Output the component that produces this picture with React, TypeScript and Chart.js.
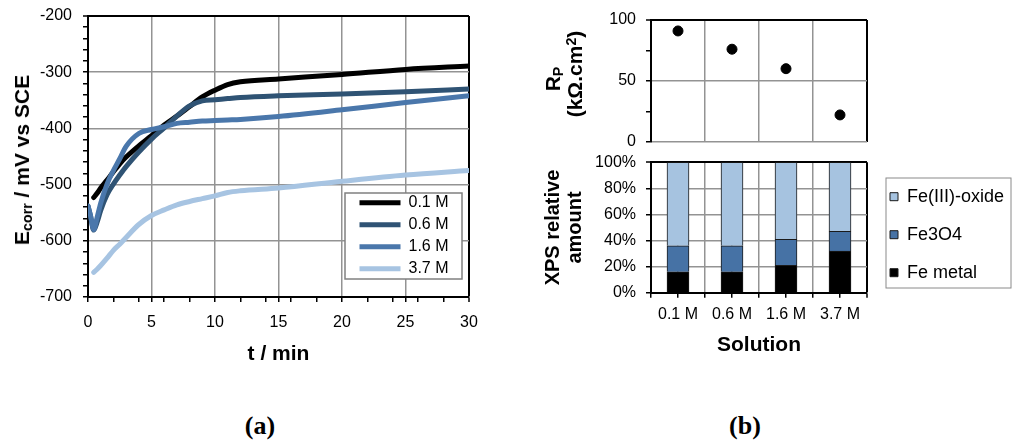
import React, { useEffect, useRef } from "react";
import { Chart, registerables } from "chart.js";

Chart.register(...registerables);

// ---------- data ----------
const timeMin = [0, 0.2, 0.45, 0.7, 1, 1.5, 2, 2.5, 3, 4, 5, 6, 7, 8, 9, 10, 11, 12, 15, 20, 25, 30];
const ecorr01M = [null, null, -523, -516, -506, -492, -477, -463, -451, -431, -413, -394, -378, -361, -344, -332, -322, -317, -312, -304, -295, -289];
const ecorr06M = [-538, -556, -581, -568, -546, -518, -499, -483, -468, -442, -419, -399, -378, -360, -351, -349, -347, -345, -342, -339, -335, -330];
const ecorr16M = [-538, -555, -580, -560, -533, -499, -475, -454, -432, -409, -402, -397, -391, -389, -387, -386, -385, -384, -379, -367, -354, -342];
const ecorr37M = [null, null, -656, -651, -644, -631, -617, -606, -594, -571, -555, -545, -536, -530, -525, -520, -514, -511, -506, -494, -483, -475];
const seriesNames = ["0.1 M", "0.6 M", "1.6 M", "3.7 M"];
const timeTicks = [0, 2, 4, 5, 6, 8, 10, 12, 14, 15, 16, 18, 20, 22, 24, 25, 26, 28, 30];

const solutions = ["0.1 M", "0.6 M", "1.6 M", "3.7 M"];
const rpValues = [91, 76, 60, 22];
const feMetal = [16, 16, 21, 32];
const fe3o4 = [20, 20, 20, 15];
const fe3Oxide = [64, 64, 59, 53];
const solutionTicks = [-0.5, 0, 0.5, 1, 1.5, 2, 2.5, 3, 3.5];

// ---------- styles ----------
const FONT = "'Liberation Sans', Arial, Helvetica, sans-serif";
const GRID = "#939393";
const lineColors = ["#000000", "#2F5374", "#4A77AB", "#A7C4E2"];

Chart.defaults.font.family = FONT;
Chart.defaults.color = "#000";

const fixSize = (prop: "width" | "height", size: number) => (s: any) => {
  s[prop] = size;
  s.paddingLeft = 0;
  s.paddingRight = 0;
  s.paddingTop = 0;
  s.paddingBottom = 0;
};

// places the legend box and draws it on a white framed panel above the data
const legendPlacer = {
  id: "legendPlacer",
  afterLayout(chart: any, _a: any, opts: any) {
    const lg = chart.legend;
    if (!lg || !opts || opts.left === undefined) return;
    const w = lg.width;
    lg.left = opts.left;
    lg.top = opts.top;
    lg.right = opts.left + w + 200;
    lg.width = w + 200;
    lg.height = 1000;
    lg.bottom = opts.top + 1000;
  },
  afterDatasetsDraw(chart: any, _a: any, opts: any) {
    if (!opts || !opts.frame) return;
    const [x0, y0, x1, y1] = opts.frame;
    const ctx = chart.ctx;
    ctx.save();
    ctx.fillStyle = "#ffffff";
    ctx.fillRect(x0, y0, x1 - x0, y1 - y0);
    ctx.strokeStyle = opts.frameColor || "#808080";
    ctx.lineWidth = opts.frameWidth || 1;
    ctx.strokeRect(x0, y0, x1 - x0, y1 - y0);
    ctx.restore();
    if (chart.legend) chart.legend.draw();
  },
};

function toPoints(vals: (number | null)[]) {
  const out: { x: number; y: number }[] = [];
  vals.forEach((v, i) => {
    if (v !== null) out.push({ x: timeMin[i], y: v });
  });
  return out;
}

function makeLeftConfig(): any {
  const all = [ecorr01M, ecorr06M, ecorr16M, ecorr37M];
  return {
    type: "line",
    data: {
      datasets: all.map((vals, i) => ({
        label: seriesNames[i],
        data: toPoints(vals),
        borderColor: lineColors[i],
        backgroundColor: lineColors[i],
        borderWidth: 5,
        borderCapStyle: "round",
        borderJoinStyle: "round",
        pointRadius: 0,
        cubicInterpolationMode: "monotone",
        order: 4 - i,
      })),
    },
    options: {
      animation: false,
      responsive: false,
      devicePixelRatio: 1,
      layout: { padding: { top: 16, right: 11, left: 0, bottom: 0 } },
      scales: {
        x: {
          type: "linear",
          min: 0,
          max: 30,
          afterBuildTicks: (s: any) => {
            s.ticks = timeTicks.map((v) => ({ value: v }));
          },
          afterFit: fixSize("height", 74),
          ticks: {
            autoSkip: false,
            maxRotation: 0,
            padding: 11,
            color: "#000",
            font: { size: 16 },
            callback: (v: number) => (v % 5 === 0 ? String(v) : ""),
          },
          grid: {
            z: -1,
            color: (c: any) => {
              const v = c.tick ? c.tick.value : null;
              if (v === 30) return "#000";
              return v !== null && v % 5 === 0 ? GRID : "rgba(0,0,0,0)";
            },
            lineWidth: (c: any) => (c.tick && c.tick.value === 30 ? 2 : 1.5),
            tickColor: "#000",
            tickLength: 5,
            tickWidth: 1.5,
          },
          border: { color: "#000", width: 2 },
          title: {
            display: true,
            text: "t / min",
            color: "#000",
            font: { size: 21, weight: "bold" },
            padding: { top: 4, bottom: 4 },
          },
        },
        y: {
          type: "linear",
          min: -700,
          max: -200,
          afterFit: fixSize("width", 88),
          ticks: {
            stepSize: 20,
            autoSkip: false,
            padding: 11,
            color: "#000",
            font: { size: 16 },
            callback: (v: number) => (Math.round(v) % 100 === 0 ? String(Math.round(v)) : ""),
          },
          grid: {
            z: -1,
            color: (c: any) => {
              const v = c.tick ? Math.round(c.tick.value) : null;
              if (v === -200) return "#000";
              return v !== null && v % 100 === 0 ? GRID : "rgba(0,0,0,0)";
            },
            lineWidth: (c: any) => (c.tick && Math.round(c.tick.value) === -200 ? 2 : 1.5),
            tickColor: "#000",
            tickLength: 5,
            tickWidth: 1.5,
          },
          border: { color: "#000", width: 2 },
        },
      },
      plugins: {
        tooltip: { enabled: false },
        legend: {
          position: "chartArea",
          align: "start",
          reverse: true,
          labels: {
            usePointStyle: true,
            pointStyle: "line",
            pointStyleWidth: 41,
            padding: 6,
            color: "#000",
            font: { size: 16 },
          },
        },
        legendPlacer: {
          left: 353.5,
          top: 188.7,
          frame: [345, 193, 462, 279],
          frameColor: "#808080",
          frameWidth: 1.5,
        },
      },
    },
    plugins: [legendPlacer],
  };
}

function makeRpConfig(): any {
  return {
    type: "line",
    data: {
      labels: solutions,
      datasets: [
        {
          label: "Rp",
          data: rpValues,
          showLine: false,
          pointRadius: 5,
          pointBackgroundColor: "#000",
          pointBorderColor: "#000",
          borderColor: "#000",
          backgroundColor: "#000",
        },
      ],
    },
    options: {
      animation: false,
      responsive: false,
      devicePixelRatio: 1,
      layout: { padding: { top: 20, right: 146, left: 0, bottom: 0 } },
      scales: {
        x: {
          type: "category",
          offset: true,
          afterFit: fixSize("height", 8.3),
          ticks: { display: false },
          grid: {
            z: -1,
            offset: true,
            drawTicks: false,
            color: (c: any) => (c.tick ? GRID : "#000"),
            lineWidth: (c: any) => (c.tick ? 1.5 : 2),
          },
          border: { display: false },
        },
        y: {
          min: 0,
          max: 100,
          afterFit: fixSize("width", 111),
          ticks: {
            stepSize: 25,
            padding: 10,
            color: "#000",
            font: { size: 16 },
            callback: (v: number) => (v % 50 === 0 ? String(v) : ""),
          },
          grid: {
            z: -1,
            color: (c: any) => {
              const v = c.tick ? c.tick.value : null;
              if (v === 100) return "#000";
              return v === 0 || v === 50 ? GRID : "rgba(0,0,0,0)";
            },
            lineWidth: (c: any) => (c.tick && c.tick.value === 100 ? 2 : 1.5),
            tickColor: "#000",
            tickLength: 5,
            tickWidth: 1.5,
          },
          border: { color: "#000", width: 2 },
        },
      },
      plugins: { tooltip: { enabled: false }, legend: { display: false } },
    },
  };
}

function makeXpsConfig(): any {
  const dark = "#1a1a1a";
  return {
    type: "bar",
    data: {
      labels: solutions,
      datasets: [
        { label: "Fe metal", data: feMetal, backgroundColor: "#000000", borderColor: dark, borderWidth: 1 },
        { label: "Fe3O4", data: fe3o4, backgroundColor: "#4672A5", borderColor: dark, borderWidth: 1 },
        { label: "Fe(III)-oxide", data: fe3Oxide, backgroundColor: "#A6C3E0", borderColor: dark, borderWidth: 1 },
      ],
    },
    options: {
      animation: false,
      responsive: false,
      devicePixelRatio: 1,
      barThickness: 22,
      layout: { padding: { top: 12.3, right: 146, left: 0, bottom: 0 } },
      scales: {
        x: {
          type: "category",
          stacked: true,
          offset: true,
          afterBuildTicks: (s: any) => {
            s.ticks = solutionTicks.map((v) => ({ value: v }));
          },
          afterFit: fixSize("height", 69.3),
          ticks: {
            autoSkip: false,
            maxRotation: 0,
            padding: 7,
            color: "#000",
            font: { size: 16 },
            callback: (v: number) => (Number.isInteger(v) ? solutions[v] : ""),
          },
          grid: {
            z: -1,
            offset: false,
            color: (c: any) => (c.tick && c.tick.value === 3.5 ? "#000" : GRID),
            lineWidth: (c: any) => (c.tick && c.tick.value === 3.5 ? 2 : 1.5),
            tickColor: "#000",
            tickLength: 5,
            tickWidth: 1.5,
          },
          border: { color: "#000", width: 2 },
          title: {
            display: true,
            text: "Solution",
            color: "#000",
            font: { size: 21, weight: "bold" },
            padding: { top: 4, bottom: 4 },
          },
        },
        y: {
          stacked: true,
          min: 0,
          max: 100,
          afterFit: fixSize("width", 111),
          ticks: {
            stepSize: 20,
            padding: 10,
            color: "#000",
            font: { size: 16 },
            callback: (v: number) => v + "%",
          },
          grid: {
            z: -1,
            color: (c: any) => (c.tick && c.tick.value === 100 ? "#000" : GRID),
            lineWidth: (c: any) => (c.tick && c.tick.value === 100 ? 2 : 1.5),
            tickColor: "#000",
            tickLength: 5,
            tickWidth: 1.5,
          },
          border: { color: "#000", width: 2 },
          title: {
            display: true,
            text: ["XPS relative", "amount"],
            color: "#000",
            font: { size: 20, weight: "bold", lineHeight: 1.1 },
            padding: { top: 2, bottom: 0 },
          },
        },
      },
      plugins: {
        tooltip: { enabled: false },
        legend: {
          position: "chartArea",
          align: "start",
          reverse: true,
          labels: {
            boxWidth: 8,
            boxHeight: 8,
            padding: 20,
            color: "#000",
            font: { size: 18 },
          },
        },
        legendPlacer: {
          left: 330,
          top: 17.7,
          frame: [346, 28, 471, 138],
          frameColor: "#8a8a8a",
          frameWidth: 1,
        },
      },
    },
    plugins: [legendPlacer],
  };
}

function ChartCanvas(props: { make: () => any; left: number; top: number; width: number; height: number }) {
  const ref = useRef<HTMLCanvasElement | null>(null);
  useEffect(() => {
    if (!ref.current) return;
    const chart = new Chart(ref.current, props.make());
    return () => chart.destroy();
  }, []);
  return (
    <canvas
      ref={ref}
      width={props.width}
      height={props.height}
      style={{ position: "absolute", left: props.left, top: props.top, width: props.width, height: props.height }}
    />
  );
}

const rotTitle = (cx: number, cy: number, size: number): React.CSSProperties => ({
  position: "absolute",
  left: cx,
  top: cy,
  transform: "translate(-50%, -50%) rotate(-90deg)",
  whiteSpace: "nowrap",
  fontFamily: FONT,
  fontWeight: "bold",
  fontSize: size,
  lineHeight: "24px",
  color: "#000",
});

const subStyle: React.CSSProperties = { fontSize: "0.68em", verticalAlign: "-0.22em", lineHeight: 0 };
const supStyle: React.CSSProperties = { fontSize: "0.68em", verticalAlign: "0.45em", lineHeight: 0 };

const caption = (cx: number): React.CSSProperties => ({
  position: "absolute",
  left: cx - 50,
  width: 100,
  top: 410,
  textAlign: "center",
  fontFamily: "'Liberation Serif', 'Times New Roman', serif",
  fontWeight: "bold",
  fontSize: 26,
  lineHeight: "32px",
  color: "#000",
});

export default function App() {
  return (
    <div
      style={{
        position: "absolute",
        left: 0,
        top: 0,
        width: 1013,
        height: 441,
        overflow: "hidden",
        background: "#ffffff",
      }}
    >
      <ChartCanvas make={makeLeftConfig} left={0} top={0} width={480} height={371} />
      <ChartCanvas make={makeRpConfig} left={540} top={0} width={473} height={150} />
      <ChartCanvas make={makeXpsConfig} left={540} top={150} width={473} height={212} />
      <div style={rotTitle(22, 160, 21)}>
        E<sub style={subStyle}>corr</sub> / mV vs SCE
      </div>
      <div style={rotTitle(553, 79, 21)}>
        R<sub style={subStyle}>P</sub>
      </div>
      <div style={rotTitle(575, 74, 21)}>
        (kΩ.cm<sup style={supStyle}>2</sup>)
      </div>
      <div style={caption(260)}>(a)</div>
      <div style={caption(745)}>(b)</div>
    </div>
  );
}
